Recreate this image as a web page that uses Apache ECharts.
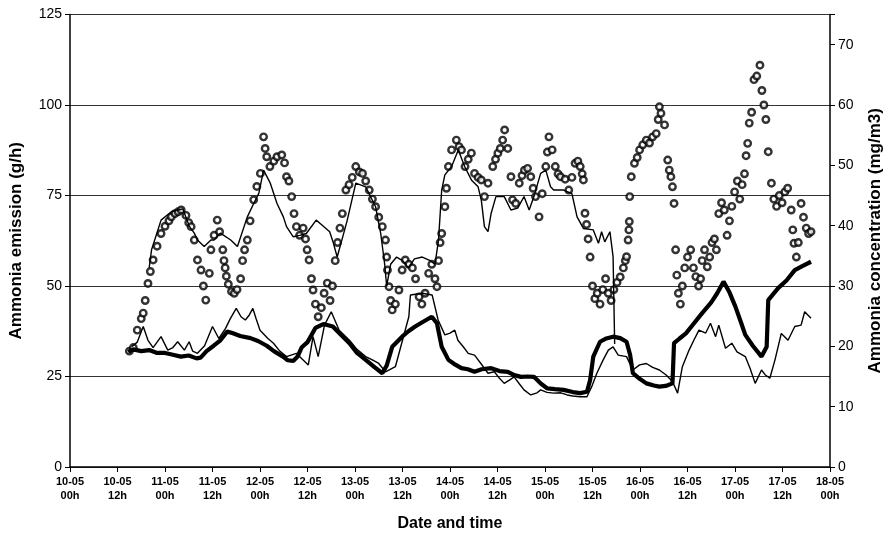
<!DOCTYPE html>
<html>
<head>
<meta charset="utf-8">
<script src="https://cdn.jsdelivr.net/npm/echarts@6/dist/echarts.min.js"></script>
<style>
html,body{margin:0;padding:0;background:#fff;}
#chart{width:892px;height:539px;}
</style>
</head>
<body>
<div id="chart"></div>
<script>
// x values are hours after 10-05 00h; y values in g/h (left axis)
const xTickLabels = ['10-05\n00h','10-05\n12h','11-05\n00h','11-05\n12h','12-05\n00h','12-05\n12h','13-05\n00h','13-05\n12h','14-05\n00h','14-05\n12h','15-05\n00h','15-05\n12h','16-05\n00h','16-05\n12h','17-05\n00h','17-05\n12h','18-05\n00h'];

const thickLower = [[14.7,31.8],[16,32.5],[18,32],[20,32.3],[22,31.5],[24,31.5],[26,31],[28,30.5],[30,30.8],[32,30],[33,30.2],[34.5,32],[36.3,33.5],[38,35],[39.7,37.4],[41,37],[43,36.2],[45.6,35.6],[47.5,34.8],[49.7,33.5],[51.5,32],[53.8,30.5],[55,29.5],[56.4,29.3],[57.5,30.5],[58.5,33],[60,34.5],[62,38.4],[64,39.5],[66.4,38.8],[68,37],[70.6,34.2],[72.5,31.5],[74.7,29.6],[77,27.5],[78.9,25.9],[80,28],[81.4,33.2],[83.9,36],[85.5,37.5],[87.2,38.8],[89,40],[91.4,41.5],[92.7,39.7],[93.9,33.2],[95.6,29.6],[97,28.5],[98.9,27.3],[100.5,27],[102.2,26.3],[104,27],[106.4,27.3],[108.5,26.5],[110.6,26.3],[112,25.5],[113.9,24.9],[115.5,25],[117.2,24.9],[119,23],[120.6,21.7],[122.5,21.5],[124.7,21.3],[127,20.7],[128.9,20.4],[130.6,20.8],[131.4,24],[132.2,30.5],[133.9,34.6],[135.5,35.5],[137.2,36],[139,35.6],[140.6,34.6],[141.5,31],[142.2,25.9],[144,24.3],[145.6,23.1],[147.5,22.5],[148.9,22.2],[150.5,22.4],[152.2,23.1],[152.6,34.2],[154,35.5],[155.6,36.9],[157.5,39.5],[159.7,42.5],[162,45.5],[163.5,48],[165.1,51.2],[166.5,48.5],[168.1,44.3],[169.5,40],[170.6,36.5],[172.5,33.5],[174.7,30.5],[176,33.2],[176.4,46.1],[178.9,49.4],[181,51.5],[183.1,54.4],[185,55.5],[187.2,56.7]];

const thinLower = [[15.6,33.2],[17,34.5],[18.5,38.8],[19.7,35],[21,33],[23,36],[24.7,32.3],[26,33],[27.2,34.6],[28.9,32.3],[30.1,34.6],[31,32],[32.2,31.4],[34,33.5],[36,38.8],[37.6,35.5],[39.3,38.3],[40.5,41],[42,43.8],[43.2,41.5],[44.3,40.6],[45.3,42],[46.2,43.8],[47,41],[48,37.8],[50,35.5],[51.4,34.2],[53,32],[54.7,30.5],[57.2,31.4],[58.5,30],[60.2,28.2],[61.4,36],[62.7,30.5],[64.3,39.2],[66,42.9],[68,37.8],[70.6,35],[72.5,32.5],[74.7,30.5],[76.5,29.5],[78,28.6],[79.7,26.3],[82.2,27.7],[84,35],[85.6,41.5],[86,47.5],[89,48],[91.5,47.5],[93,40.6],[94.7,36.5],[96,37],[97.2,37.8],[98,35],[99.5,33],[100.6,31.4],[102.2,30.9],[103.8,28.6],[105.6,25.9],[107.2,26.3],[108.5,24.5],[109.7,23.1],[111,24],[112.2,24.9],[113.5,23],[114.7,21.3],[116.4,19.9],[118,20.5],[118.9,21.3],[120.5,20.6],[122.2,20.4],[124,20.5],[125.6,19.9],[127,19.6],[128.9,19.4],[130.6,19.4],[131.8,22.2],[133.1,25.9],[134.7,29.6],[136,32.3],[137.2,33.2],[138.5,30.9],[140.6,30.5],[142.2,26.8],[143.9,28.2],[145.6,28.6],[147.2,27.5],[148.9,26.8],[150.6,25.4],[152.2,23.6],[153.5,20.4],[154.7,27.7],[156.4,32.3],[157.6,35],[158.9,37.8],[160.6,37],[161.8,39.7],[163.1,36],[163.9,39.2],[165.6,32.8],[167.2,34.2],[168.5,31.8],[170.6,30.5],[171.8,27.3],[173.1,23.1],[174.7,26.8],[175.6,25.5],[176.8,24.5],[178.1,29.6],[179.7,36.9],[181.4,35],[183.1,38.8],[184.7,39.2],[185.6,42.9],[187.2,41.1]];

const thinUpper = [[20,55],[20.6,60],[21.4,62.7],[23,68.2],[25.6,70.5],[28.5,71.3],[30.2,66.4],[31.4,64.6],[32.2,62.7],[33.9,60.9],[35.6,62.7],[36.4,62.7],[38,64.6],[40.6,62.7],[42.3,60.9],[44.8,69.1],[46.5,73],[47.7,75.6],[48.9,82],[50.6,78.4],[52.3,72.8],[53.9,69.1],[54.7,66.4],[56.4,63.6],[58,64],[59.7,64.5],[62.2,68.2],[63.5,67],[65.6,65],[66.5,62],[67.5,58],[68.5,62],[70,68],[72.2,78.4],[74.7,77.4],[77.2,71.9],[78.5,64.5],[79.5,56],[80,50],[81,56],[82.5,58],[84,57],[85.5,55],[87,57.5],[89,58],[91,57],[92.2,56],[93.1,62.7],[93.9,76.5],[94.7,80.7],[96.4,83],[98.1,87.6],[99.7,83],[101.4,79.3],[103.1,77.4],[103.9,73.8],[104.7,66.4],[105.6,65],[106.4,70.1],[107.6,74.7],[109.7,74.7],[111.4,71],[113.1,71.5],[114.7,74.7],[116,71],[117.2,74.7],[118.9,81.1],[120.2,82],[121.4,77.4],[122.2,76.5],[124.7,76.5],[126.8,75.5],[128.1,69.1],[129.7,65.9],[132.2,65.5],[133.5,61.8],[134.3,65],[135.1,62.2],[136.4,65],[137.2,58.1],[137.6,34]];

const circles = [[15,32],[16,33],[17,37.8],[18,41],[18.5,42.5],[19,46],[19.7,50.7],[20.3,54],[21,57.2],[22,61],[23,64.5],[24,66.5],[25,68],[25.6,69.1],[26.5,70],[27.3,70.5],[28.1,71],[29.3,69.5],[30,67.5],[30.6,66.4],[31.4,62.7],[32.2,57.2],[33.1,54.4],[33.7,50],[34.3,46.1],[35.2,53.5],[35.6,60],[36.4,64],[37.2,68.2],[37.8,65],[38.6,60],[38.9,57],[39.2,55],[39.5,52.7],[40,50.5],[40.8,48.5],[41.5,48],[42.2,49],[43.1,52],[43.6,57],[44.1,60],[44.8,62.7],[45.5,68],[46.4,73.8],[47.2,77.5],[48.1,81.1],[48.9,91.2],[49.3,88],[49.7,85.7],[50.5,83],[51.5,84.5],[52.3,85.7],[53.5,86.2],[54.2,84],[54.7,80.2],[55.3,79],[56,74.7],[56.6,70],[57.2,66.4],[58,64],[58.9,66],[59.5,63],[59.9,60],[60.4,57.2],[61,52],[61.4,48.9],[62,45],[62.7,41.5],[63.5,44],[64.2,48],[65,50.8],[65.7,46],[66.3,50],[67,57],[67.6,62],[68.2,66],[68.8,70],[69.7,76.5],[70.5,78],[71.3,80],[72.2,83],[73.1,81.5],[73.9,81.1],[74.7,79],[75.6,76.5],[76.4,74],[77.2,71.9],[78,69],[78.9,66.4],[79.7,62.7],[80,58],[80.2,54.4],[80.6,49.8],[81,46],[81.4,43.4],[82.2,45],[83.1,48.9],[83.9,54.4],[84.7,57.2],[85.6,56],[86.5,55],[87.3,52],[88.2,47],[88.9,45],[89.7,48],[90.6,53.5],[91.4,56],[92.2,52],[92.7,49.8],[93.1,57],[93.5,62],[93.9,64.5],[94.7,71.9],[95.1,77],[95.6,83],[96.4,87.6],[97.6,90.3],[98.3,88.5],[98.9,87.6],[99.8,83],[100.6,85],[101.4,86.7],[102.2,81.1],[103.1,80],[103.9,79.3],[104.7,74.7],[105.6,78.4],[106.8,83],[107.5,85],[108.1,86.7],[108.7,88],[109.3,90.3],[109.8,93.1],[110.6,88],[111.4,80.2],[111.8,73.8],[112.6,72.8],[113.5,78.4],[114.2,80.5],[114.8,82],[115.6,82.5],[116.4,80.2],[117,77],[117.6,74.7],[118.5,69.1],[119.3,75.5],[120.2,83],[120.6,87],[121,91.2],[121.8,87.6],[122.6,83],[123.3,81],[123.9,80.2],[125.1,79.5],[126,76.5],[126.8,80],[127.6,83.9],[128.3,84.5],[128.9,83],[129.4,81],[129.7,79.3],[130.1,70.1],[130.5,67],[130.9,63],[131.4,58],[132,50],[132.6,46.5],[133.2,48],[133.9,45],[134.6,49],[135.3,52],[136,48],[136.7,46],[137.4,49],[138.2,51],[139,52.5],[139.8,55],[140.3,57],[140.6,58.1],[141,62.7],[141.2,65.5],[141.3,67.8],[141.4,74.7],[141.8,80.2],[142.6,83.9],[143.3,85.5],[143.9,87.6],[144.7,89],[145.6,90.3],[146.4,89.5],[147.2,91.2],[148.1,92.1],[148.6,96],[148.9,99.5],[149.3,97.7],[150.2,94.5],[151,84.8],[151.4,82],[151.8,80.2],[152.2,77.4],[152.6,72.8],[153,60],[153.3,53],[153.7,48],[154.2,45],[154.7,50],[155.3,55],[156,58],[156.8,60],[157.5,55],[158.1,52.6],[158.8,50],[159.3,52],[159.7,57],[160.3,60],[161,55.3],[161.6,58],[162.2,62],[162.8,63],[163.3,60],[163.9,70],[164.6,73],[165.3,71],[166,64],[166.6,68],[167.2,72],[167.9,76],[168.6,79],[169.2,74],[169.8,78],[170.4,81],[170.8,86],[171.2,89.4],[171.6,95],[172.2,98],[172.8,107],[173.5,108],[174.3,111],[174.8,104],[175.3,100],[175.8,96],[176.4,87.1],[177.2,78.4],[177.8,74],[178.5,72],[179.2,75],[179.9,73],[180.6,76],[181.3,77],[182.2,71],[182.6,65.5],[182.9,61.8],[183.5,58],[184,62],[184.7,72.8],[185.3,69],[186,66],[186.6,64.5],[187.2,65]];

const leftName = 'Ammonia emission (g/h)';
const rightName = 'Ammonia concentration (mg/m3)';
const xName = 'Date and time';

const FONT = '"Liberation Sans", Arial, sans-serif';
const chart = echarts.init(document.getElementById('chart'), null, {renderer: 'canvas'});
chart.setOption({
  animation: false,
  backgroundColor: '#ffffff',
  grid: {left: 68, right: 56, top: 14.5, bottom: 72},
  xAxis: {
    type: 'value', min: 0, max: 192, interval: 12,
    axisLine: {lineStyle: {color: '#000', width: 1.5}},
    axisTick: {show: true, length: 5, lineStyle: {color: '#000'}},
    axisLabel: {color: '#000', fontFamily: FONT, fontSize: 11, fontWeight: 'bold', lineHeight: 14, margin: 8,
      formatter: function (v) { return xTickLabels[Math.round(v / 12)] || ''; }},
    splitLine: {show: false},
    name: xName, nameLocation: 'middle', nameGap: 49,
    nameTextStyle: {color: '#000', fontFamily: FONT, fontSize: 16, fontWeight: 'bold'}
  },
  yAxis: [{
    type: 'value', min: 0, max: 125, interval: 25, position: 'left',
    axisLine: {show: true, lineStyle: {color: '#000', width: 1.5}},
    axisTick: {show: true, length: 5, lineStyle: {color: '#000'}},
    axisLabel: {color: '#000', fontFamily: FONT, fontSize: 14, margin: 8},
    splitLine: {show: true, lineStyle: {color: '#333', width: 1}},
    name: leftName, nameLocation: 'middle', nameGap: 45, nameRotate: 90,
    nameTextStyle: {color: '#000', fontFamily: FONT, fontSize: 17, fontWeight: 'bold'}
  }, {
    type: 'value', min: 0, max: 75, interval: 10, position: 'right',
    axisLine: {show: true, lineStyle: {color: '#000', width: 1.5}},
    axisTick: {show: true, length: 5, lineStyle: {color: '#000'}},
    axisLabel: {color: '#000', fontFamily: FONT, fontSize: 14, margin: 8,
      formatter: function (v) { return v > 70 ? '' : String(v); }},
    splitLine: {show: false},
    name: rightName, nameLocation: 'middle', nameGap: 37, nameRotate: 90,
    nameTextStyle: {color: '#000', fontFamily: FONT, fontSize: 17, fontWeight: 'bold'}
  }],
  series: [{
    name: 'circles', type: 'scatter', yAxisIndex: 0, data: circles,
    symbol: 'circle', symbolSize: 6.5,
    itemStyle: {color: '#ffffff', borderColor: '#000', borderWidth: 2.4}, z: 2
  }, {
    name: 'thinUpper', type: 'line', yAxisIndex: 0, data: thinUpper, showSymbol: false,
    lineStyle: {color: '#000', width: 1.4}, z: 3
  }, {
    name: 'thinLower', type: 'line', yAxisIndex: 0, data: thinLower, showSymbol: false,
    lineStyle: {color: '#000', width: 1.4}, z: 3
  }, {
    name: 'thickLower', type: 'line', yAxisIndex: 0, data: thickLower, showSymbol: false,
    lineStyle: {color: '#000', width: 4.2}, z: 4
  }]
});
</script>
</body>
</html>
